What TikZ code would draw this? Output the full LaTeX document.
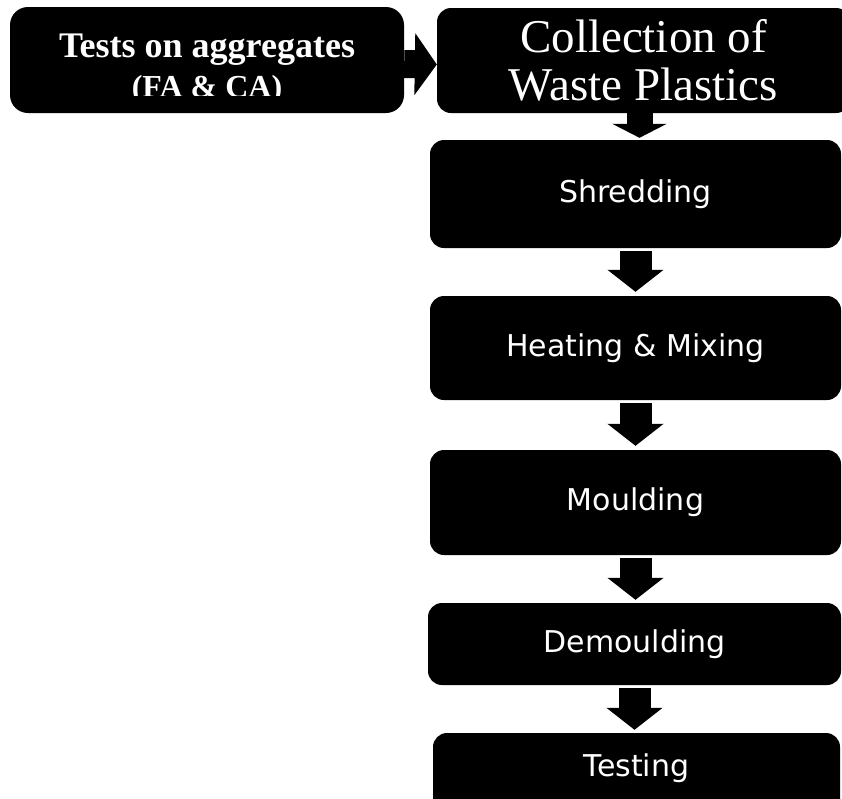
\documentclass[tikz,border=0pt]{standalone}
\usepackage{fontspec}
\setmainfont{Liberation Serif}
\setsansfont{DejaVu Sans}
\usetikzlibrary{arrows.meta}

\begin{document}
\begin{tikzpicture}[x=1pt, y=-1pt, >={Triangle[length=22pt,width=55pt]}]
\tikzset{
  stepbox/.style={fill=black, text=white, rounded corners=14pt, inner sep=0pt, align=center},
  stepfont/.style={font=\sffamily\fontsize{30}{36}\selectfont},
  flow/.style={->, line width=32pt, black},
}
\useasboundingbox (0,0) rectangle (842,798);
%==================== Riga in alto ==================
\node[stepbox, rounded corners=18pt, minimum width=394pt, minimum height=106pt] (tests) at (207,60) {};
\begin{scope}
\clip (tests.north west) rectangle ([yshift=18pt]tests.south east);
\node[text=white, align=center, inner sep=0pt, anchor=base,
  font=\bfseries\fontsize{36}{40}\selectfont]
  (testsText) at (207,97.5) {Tests on aggregates\\{\fontsize{32}{40}\selectfont(FA \& CA)}};
\end{scope}
\node[stepbox, minimum width=413pt, minimum height=105pt,
  font=\fontsize{47}{48}\selectfont]
  (collect) at (643.5,60.5) {Collection of\\Waste Plastics};
%==================== Colonna di passi ==================
\node[stepbox, stepfont, minimum width=411pt, minimum height=108pt] (shred) at (635.5,194) {Shredding};
\node[stepbox, stepfont, minimum width=411pt, minimum height=104pt] (heat) at (635.5,348) {Heating \& Mixing};
\node[stepbox, stepfont, minimum width=411pt, minimum height=105pt] (mould) at (635.5,502.5) {Moulding};
\node[stepbox, stepfont, minimum width=413pt, minimum height=82pt] (demould) at (634.5,644) {Demoulding};
\node[stepbox, stepfont, minimum width=407pt, minimum height=90pt, text height=23pt, text depth=27pt]
  (test) at (636.5,778) {Testing};
%=================== Frecce =================================
\draw[flow, line width=28pt, -{Triangle[length=22pt,width=61pt]}]
  ([yshift=-4pt]tests.east) -- ([yshift=-4pt]collect.west);
\draw[flow, line width=26pt, -{Triangle[length=14pt,width=54pt]}]
  ([xshift=4pt]shred.north |- collect.south) -- ([xshift=4pt,yshift=2pt]shred.north);
\draw[flow] ([yshift=-3pt]shred.south) -- ([yshift=4pt]heat.north);
\draw[flow] ([yshift=-3pt]heat.south) -- ([yshift=4pt]mould.north);
\draw[flow] ([yshift=-3pt]mould.south) -- ([yshift=3pt]mould.south |- demould.north);
\draw[flow] ([yshift=-3pt]demould.south) -- ([yshift=3pt]demould.south |- test.north);
\end{tikzpicture}
\end{document}
